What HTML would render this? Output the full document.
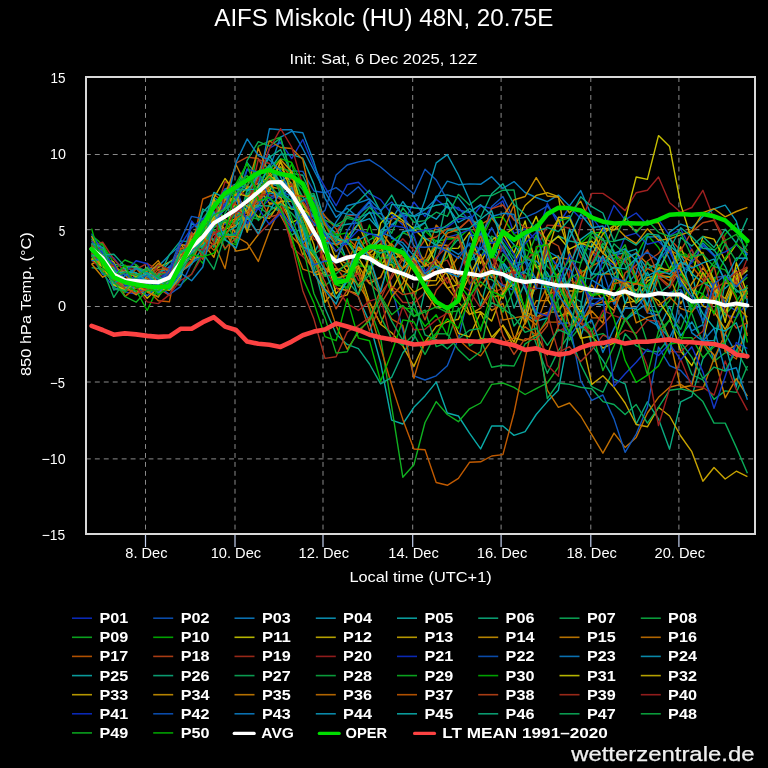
<!DOCTYPE html>
<html><head><meta charset="utf-8"><title>AIFS Miskolc</title>
<style>html,body{margin:0;padding:0;background:#000;width:768px;height:768px;overflow:hidden;font-family:"Liberation Sans",sans-serif}</style>
</head><body>
<svg width="768" height="768" viewBox="0 0 768 768" style="position:absolute;left:0;top:0;will-change:transform">
<defs><clipPath id="pc"><rect x="87" y="78" width="667" height="455"/></clipPath></defs>
<g stroke="#8a8a8a" stroke-width="1" stroke-dasharray="4.9,4.05" fill="none"><line x1="85.9" x2="754" y1="154.50" y2="154.50"/><line x1="85.9" x2="754" y1="229.70" y2="229.70"/><line x1="85.9" x2="754" y1="306.50" y2="306.50"/><line x1="85.9" x2="754" y1="382.00" y2="382.00"/><line x1="85.9" x2="754" y1="458.90" y2="458.90"/><line x1="145.5" x2="145.5" y1="77.1" y2="533"/><line x1="235.0" x2="235.0" y1="77.1" y2="533"/><line x1="323.0" x2="323.0" y1="77.1" y2="533"/><line x1="412.7" x2="412.7" y1="77.1" y2="533"/><line x1="501.1" x2="501.1" y1="77.1" y2="533"/><line x1="590.8" x2="590.8" y1="77.1" y2="533"/><line x1="678.9" x2="678.9" y1="77.1" y2="533"/></g>
<g clip-path="url(#pc)" fill="none" stroke-width="1.4" stroke-linejoin="round"><path d="M91.6,244.1 L102.7,255.0 L113.8,270.5 L124.9,291.9 L136.1,294.0 L147.2,277.9 L158.3,275.2 L169.4,277.0 L180.5,271.6 L191.6,236.2 L202.8,235.2 L213.9,211.6 L225.0,224.6 L236.1,209.1 L247.2,169.4 L258.3,179.6 L269.4,148.2 L280.6,142.1 L291.7,158.6 L302.8,139.5 L313.9,166.6 L325.0,187.3 L336.1,205.7 L347.2,184.5 L358.4,182.2 L369.5,193.7 L380.6,199.6 L391.7,214.2 L402.8,224.9 L413.9,202.0 L425.0,216.4 L436.2,199.4 L447.3,207.9 L458.4,207.5 L469.5,220.9 L480.6,206.0 L491.7,208.5 L502.9,200.9 L514.0,233.4 L525.1,228.9 L536.2,240.2 L547.3,203.5 L558.4,224.3 L569.5,207.0 L580.7,218.6 L591.8,217.2 L602.9,231.9 L614.0,205.3 L625.1,219.9 L636.2,213.0 L647.4,225.1 L658.5,219.7 L669.6,235.6 L680.7,229.0 L691.8,250.2 L702.9,273.2 L714.0,287.5 L725.2,315.0 L736.3,317.6 L747.4,301.8" stroke="#1438c8"/><path d="M91.6,244.7 L102.7,263.5 L113.8,285.7 L124.9,285.8 L136.1,273.9 L147.2,283.4 L158.3,277.5 L169.4,278.8 L180.5,256.7 L191.6,232.2 L202.8,248.5 L213.9,226.8 L225.0,204.5 L236.1,220.7 L247.2,218.0 L258.3,204.8 L269.4,186.0 L280.6,199.7 L291.7,170.7 L302.8,171.4 L313.9,191.0 L325.0,192.7 L336.1,187.6 L347.2,196.0 L358.4,186.8 L369.5,199.7 L380.6,236.0 L391.7,287.6 L402.8,330.0 L413.9,375.8 L425.0,380.0 L436.2,375.8 L447.3,365.8 L458.4,338.6 L469.5,291.3 L480.6,242.4 L491.7,206.6 L502.9,196.6 L514.0,219.7 L525.1,217.4 L536.2,212.6 L547.3,206.0 L558.4,219.8 L569.5,215.7 L580.7,244.0 L591.8,251.0 L602.9,271.1 L614.0,304.5 L625.1,279.6 L636.2,293.5 L647.4,312.9 L658.5,315.1 L669.6,292.7 L680.7,289.4 L691.8,309.3 L702.9,305.9 L714.0,277.6 L725.2,276.1 L736.3,282.0 L747.4,299.1" stroke="#1058c0"/><path d="M91.6,243.6 L102.7,257.5 L113.8,267.0 L124.9,275.1 L136.1,267.7 L147.2,270.7 L158.3,266.2 L169.4,255.0 L180.5,245.1 L191.6,244.3 L202.8,229.6 L213.9,220.7 L225.0,206.3 L236.1,217.5 L247.2,196.2 L258.3,175.1 L269.4,169.0 L280.6,137.1 L291.7,131.4 L302.8,132.8 L313.9,162.1 L325.0,198.3 L336.1,217.4 L347.2,208.3 L358.4,217.9 L369.5,212.9 L380.6,213.5 L391.7,224.9 L402.8,215.3 L413.9,216.0 L425.0,209.6 L436.2,198.7 L447.3,181.2 L458.4,184.7 L469.5,183.9 L480.6,184.3 L491.7,176.7 L502.9,188.4 L514.0,181.6 L525.1,192.5 L536.2,197.5 L547.3,201.7 L558.4,195.1 L569.5,205.9 L580.7,190.6 L591.8,216.0 L602.9,287.9 L614.0,297.7 L625.1,319.5 L636.2,313.0 L647.4,319.7 L658.5,326.2 L669.6,337.7 L680.7,314.0 L691.8,330.9 L702.9,324.6 L714.0,361.3 L725.2,333.6 L736.3,353.6 L747.4,300.6" stroke="#0a80c0"/><path d="M91.6,255.7 L102.7,274.3 L113.8,270.8 L124.9,280.3 L136.1,285.8 L147.2,287.5 L158.3,274.4 L169.4,290.4 L180.5,279.0 L191.6,237.3 L202.8,220.6 L213.9,207.7 L225.0,189.2 L236.1,183.9 L247.2,188.8 L258.3,202.2 L269.4,183.6 L280.6,186.6 L291.7,191.5 L302.8,204.1 L313.9,225.8 L325.0,216.7 L336.1,226.3 L347.2,224.3 L358.4,222.7 L369.5,218.7 L380.6,231.1 L391.7,219.4 L402.8,201.5 L413.9,216.7 L425.0,213.1 L436.2,219.2 L447.3,206.0 L458.4,222.5 L469.5,216.4 L480.6,235.6 L491.7,250.8 L502.9,263.6 L514.0,290.3 L525.1,314.2 L536.2,321.2 L547.3,318.0 L558.4,285.1 L569.5,310.6 L580.7,336.5 L591.8,303.5 L602.9,305.0 L614.0,299.9 L625.1,320.9 L636.2,311.0 L647.4,303.7 L658.5,329.2 L669.6,306.5 L680.7,335.7 L691.8,321.9 L702.9,341.0 L714.0,340.4 L725.2,305.7 L736.3,278.3 L747.4,300.6" stroke="#0a98b8"/><path d="M91.6,251.4 L102.7,260.4 L113.8,284.3 L124.9,287.5 L136.1,265.3 L147.2,284.9 L158.3,290.4 L169.4,279.4 L180.5,262.0 L191.6,243.0 L202.8,212.2 L213.9,200.8 L225.0,236.3 L236.1,232.4 L247.2,205.9 L258.3,196.5 L269.4,170.4 L280.6,154.3 L291.7,154.7 L302.8,158.2 L313.9,184.1 L325.0,222.6 L336.1,233.6 L347.2,261.1 L358.4,297.1 L369.5,322.5 L380.6,363.0 L391.7,420.2 L402.8,424.0 L413.9,407.3 L425.0,395.9 L436.2,382.1 L447.3,413.0 L458.4,416.0 L469.5,433.1 L480.6,448.9 L491.7,426.0 L502.9,426.0 L514.0,435.4 L525.1,431.7 L536.2,414.5 L547.3,401.6 L558.4,390.2 L569.5,330.6 L580.7,308.3 L591.8,243.7 L602.9,263.2 L614.0,254.7 L625.1,252.7 L636.2,249.1 L647.4,281.2 L658.5,276.8 L669.6,277.2 L680.7,266.0 L691.8,272.1 L702.9,323.3 L714.0,291.7 L725.2,288.3 L736.3,278.4 L747.4,270.7" stroke="#0aaaa8"/><path d="M91.6,238.4 L102.7,266.1 L113.8,264.2 L124.9,265.9 L136.1,273.6 L147.2,276.6 L158.3,278.8 L169.4,274.1 L180.5,255.5 L191.6,234.8 L202.8,231.7 L213.9,216.2 L225.0,196.9 L236.1,187.9 L247.2,162.6 L258.3,176.8 L269.4,157.2 L280.6,149.7 L291.7,173.4 L302.8,175.2 L313.9,200.5 L325.0,237.1 L336.1,236.5 L347.2,212.5 L358.4,201.6 L369.5,190.2 L380.6,211.6 L391.7,195.1 L402.8,216.5 L413.9,231.1 L425.0,222.4 L436.2,247.3 L447.3,251.7 L458.4,239.1 L469.5,261.1 L480.6,305.7 L491.7,264.6 L502.9,273.8 L514.0,288.8 L525.1,307.7 L536.2,286.7 L547.3,249.8 L558.4,269.6 L569.5,295.0 L580.7,301.7 L591.8,345.1 L602.9,360.3 L614.0,379.1 L625.1,383.9 L636.2,424.0 L647.4,401.8 L658.5,419.0 L669.6,449.2 L680.7,401.8 L691.8,396.4 L702.9,358.9 L714.0,344.1 L725.2,282.0 L736.3,289.7 L747.4,299.4" stroke="#0aaa80"/><path d="M91.6,253.1 L102.7,261.7 L113.8,287.7 L124.9,290.7 L136.1,278.8 L147.2,283.8 L158.3,280.0 L169.4,286.0 L180.5,271.2 L191.6,245.9 L202.8,231.5 L213.9,220.5 L225.0,191.6 L236.1,209.2 L247.2,231.5 L258.3,206.5 L269.4,214.7 L280.6,205.8 L291.7,192.5 L302.8,206.7 L313.9,211.6 L325.0,231.4 L336.1,281.2 L347.2,272.2 L358.4,247.1 L369.5,240.0 L380.6,233.1 L391.7,255.5 L402.8,247.9 L413.9,267.1 L425.0,227.7 L436.2,232.4 L447.3,229.2 L458.4,232.3 L469.5,273.0 L480.6,277.2 L491.7,279.6 L502.9,289.0 L514.0,326.0 L525.1,312.8 L536.2,343.8 L547.3,373.3 L558.4,350.6 L569.5,334.6 L580.7,364.6 L591.8,386.6 L602.9,392.2 L614.0,368.5 L625.1,333.7 L636.2,345.7 L647.4,351.2 L658.5,351.8 L669.6,337.7 L680.7,344.8 L691.8,374.6 L702.9,379.8 L714.0,399.4 L725.2,390.9 L736.3,392.4 L747.4,365.9" stroke="#0aaa58"/><path d="M91.6,253.0 L102.7,265.6 L113.8,278.1 L124.9,288.7 L136.1,291.7 L147.2,288.8 L158.3,296.7 L169.4,283.3 L180.5,285.1 L191.6,274.0 L202.8,251.6 L213.9,221.9 L225.0,222.9 L236.1,221.1 L247.2,198.6 L258.3,188.4 L269.4,165.4 L280.6,186.3 L291.7,183.0 L302.8,205.1 L313.9,211.9 L325.0,224.3 L336.1,238.6 L347.2,240.8 L358.4,238.2 L369.5,270.1 L380.6,252.1 L391.7,251.5 L402.8,232.6 L413.9,237.6 L425.0,265.2 L436.2,240.3 L447.3,246.3 L458.4,285.6 L469.5,260.1 L480.6,257.7 L491.7,236.1 L502.9,242.3 L514.0,258.2 L525.1,234.7 L536.2,224.2 L547.3,249.5 L558.4,305.4 L569.5,340.1 L580.7,326.3 L591.8,336.2 L602.9,333.6 L614.0,343.0 L625.1,320.1 L636.2,308.1 L647.4,343.3 L658.5,337.7 L669.6,319.7 L680.7,279.3 L691.8,313.3 L702.9,343.9 L714.0,361.4 L725.2,352.7 L736.3,351.4 L747.4,332.7" stroke="#0aaa40"/><path d="M91.6,252.2 L102.7,243.7 L113.8,270.1 L124.9,260.0 L136.1,264.6 L147.2,275.1 L158.3,283.1 L169.4,277.2 L180.5,256.4 L191.6,241.8 L202.8,232.0 L213.9,216.7 L225.0,249.7 L236.1,231.6 L247.2,206.7 L258.3,146.2 L269.4,141.1 L280.6,137.2 L291.7,177.8 L302.8,186.1 L313.9,211.9 L325.0,241.6 L336.1,244.9 L347.2,259.8 L358.4,273.8 L369.5,306.9 L380.6,338.0 L391.7,406.9 L402.8,477.2 L413.9,464.7 L425.0,422.5 L436.2,401.6 L447.3,414.5 L458.4,421.7 L469.5,408.8 L480.6,403.0 L491.7,384.4 L502.9,383.0 L514.0,387.3 L525.1,394.5 L536.2,388.7 L547.3,383.0 L558.4,367.2 L569.5,304.5 L580.7,263.6 L591.8,236.5 L602.9,246.3 L614.0,259.2 L625.1,244.7 L636.2,278.6 L647.4,309.1 L658.5,312.5 L669.6,300.5 L680.7,273.5 L691.8,289.4 L702.9,293.8 L714.0,266.5 L725.2,269.8 L736.3,286.9 L747.4,277.3" stroke="#10b020"/><path d="M91.6,235.2 L102.7,244.6 L113.8,263.0 L124.9,282.7 L136.1,291.6 L147.2,288.7 L158.3,284.2 L169.4,277.0 L180.5,254.7 L191.6,249.7 L202.8,263.4 L213.9,230.1 L225.0,240.1 L236.1,244.9 L247.2,187.7 L258.3,182.8 L269.4,167.8 L280.6,188.6 L291.7,163.6 L302.8,204.1 L313.9,229.0 L325.0,261.5 L336.1,285.0 L347.2,287.3 L358.4,256.3 L369.5,224.9 L380.6,261.4 L391.7,242.1 L402.8,232.9 L413.9,227.1 L425.0,230.7 L436.2,241.6 L447.3,239.0 L458.4,238.5 L469.5,228.3 L480.6,241.7 L491.7,217.8 L502.9,217.1 L514.0,234.7 L525.1,238.9 L536.2,265.5 L547.3,282.7 L558.4,311.7 L569.5,295.1 L580.7,322.5 L591.8,329.8 L602.9,314.5 L614.0,294.7 L625.1,281.6 L636.2,256.6 L647.4,234.9 L658.5,247.5 L669.6,269.4 L680.7,251.0 L691.8,258.2 L702.9,277.0 L714.0,262.4 L725.2,234.2 L736.3,223.5 L747.4,245.2" stroke="#00b800"/><path d="M91.6,246.4 L102.7,254.7 L113.8,274.5 L124.9,266.2 L136.1,266.7 L147.2,276.3 L158.3,267.3 L169.4,262.2 L180.5,253.7 L191.6,259.8 L202.8,255.4 L213.9,243.8 L225.0,231.1 L236.1,199.3 L247.2,187.6 L258.3,183.5 L269.4,190.5 L280.6,197.3 L291.7,222.7 L302.8,217.0 L313.9,235.7 L325.0,237.4 L336.1,251.5 L347.2,241.6 L358.4,259.2 L369.5,253.8 L380.6,266.3 L391.7,248.8 L402.8,260.4 L413.9,267.9 L425.0,266.0 L436.2,246.7 L447.3,248.8 L458.4,248.1 L469.5,232.3 L480.6,263.5 L491.7,240.0 L502.9,232.8 L514.0,253.0 L525.1,220.9 L536.2,267.7 L547.3,261.3 L558.4,256.0 L569.5,294.2 L580.7,312.3 L591.8,294.2 L602.9,292.6 L614.0,300.8 L625.1,292.9 L636.2,302.9 L647.4,294.7 L658.5,300.6 L669.6,316.8 L680.7,351.0 L691.8,365.7 L702.9,340.6 L714.0,296.3 L725.2,314.1 L736.3,279.1 L747.4,270.2" stroke="#c8c000"/><path d="M91.6,244.3 L102.7,258.2 L113.8,261.9 L124.9,287.9 L136.1,286.1 L147.2,298.3 L158.3,287.4 L169.4,281.4 L180.5,269.5 L191.6,238.6 L202.8,224.7 L213.9,198.4 L225.0,222.6 L236.1,218.9 L247.2,219.5 L258.3,187.7 L269.4,203.3 L280.6,202.8 L291.7,209.1 L302.8,210.0 L313.9,215.4 L325.0,230.4 L336.1,259.8 L347.2,235.9 L358.4,224.3 L369.5,250.1 L380.6,236.2 L391.7,259.0 L402.8,254.8 L413.9,265.1 L425.0,276.6 L436.2,266.2 L447.3,288.0 L458.4,284.3 L469.5,313.9 L480.6,311.7 L491.7,321.1 L502.9,292.4 L514.0,283.4 L525.1,320.2 L536.2,251.0 L547.3,298.8 L558.4,316.3 L569.5,312.1 L580.7,338.2 L591.8,336.2 L602.9,348.1 L614.0,342.9 L625.1,302.9 L636.2,301.1 L647.4,281.0 L658.5,274.4 L669.6,269.2 L680.7,246.8 L691.8,275.6 L702.9,236.5 L714.0,239.1 L725.2,260.3 L736.3,244.3 L747.4,253.1" stroke="#c8b000"/><path d="M91.6,245.1 L102.7,255.6 L113.8,280.4 L124.9,269.7 L136.1,288.0 L147.2,282.2 L158.3,284.8 L169.4,273.8 L180.5,243.9 L191.6,257.9 L202.8,257.0 L213.9,219.6 L225.0,229.0 L236.1,225.5 L247.2,215.3 L258.3,192.9 L269.4,176.8 L280.6,166.8 L291.7,184.6 L302.8,237.2 L313.9,260.8 L325.0,289.2 L336.1,298.2 L347.2,294.9 L358.4,267.1 L369.5,302.1 L380.6,324.2 L391.7,332.8 L402.8,345.8 L413.9,366.4 L425.0,341.8 L436.2,326.3 L447.3,321.8 L458.4,319.2 L469.5,293.9 L480.6,255.7 L491.7,277.7 L502.9,235.6 L514.0,228.0 L525.1,205.5 L536.2,195.4 L547.3,192.7 L558.4,196.7 L569.5,259.4 L580.7,333.4 L591.8,384.4 L602.9,375.8 L614.0,387.3 L625.1,403.0 L636.2,424.5 L647.4,426.8 L658.5,407.3 L669.6,416.0 L680.7,436.0 L691.8,451.7 L702.9,481.2 L714.0,467.5 L725.2,479.0 L736.3,471.2 L747.4,476.7" stroke="#c8a400"/><path d="M91.6,264.0 L102.7,259.3 L113.8,271.8 L124.9,287.2 L136.1,282.0 L147.2,282.1 L158.3,291.7 L169.4,283.7 L180.5,260.7 L191.6,251.7 L202.8,243.0 L213.9,257.3 L225.0,218.4 L236.1,233.6 L247.2,224.5 L258.3,201.9 L269.4,186.8 L280.6,188.9 L291.7,186.0 L302.8,203.6 L313.9,222.8 L325.0,223.8 L336.1,239.5 L347.2,242.1 L358.4,250.3 L369.5,248.1 L380.6,231.0 L391.7,246.5 L402.8,259.2 L413.9,260.1 L425.0,262.8 L436.2,274.1 L447.3,287.5 L458.4,302.1 L469.5,314.6 L480.6,308.1 L491.7,287.2 L502.9,298.4 L514.0,267.9 L525.1,312.4 L536.2,316.9 L547.3,312.4 L558.4,311.9 L569.5,290.7 L580.7,291.8 L591.8,285.1 L602.9,300.9 L614.0,310.4 L625.1,283.1 L636.2,290.6 L647.4,277.5 L658.5,275.2 L669.6,276.6 L680.7,303.8 L691.8,283.5 L702.9,267.8 L714.0,282.9 L725.2,302.3 L736.3,275.9 L747.4,268.4" stroke="#c89000"/><path d="M91.6,258.9 L102.7,265.6 L113.8,276.7 L124.9,271.2 L136.1,274.7 L147.2,271.2 L158.3,260.6 L169.4,278.1 L180.5,250.0 L191.6,251.9 L202.8,239.1 L213.9,223.6 L225.0,231.5 L236.1,251.1 L247.2,249.0 L258.3,234.6 L269.4,204.4 L280.6,202.0 L291.7,225.0 L302.8,255.1 L313.9,232.3 L325.0,260.1 L336.1,270.7 L347.2,265.2 L358.4,287.1 L369.5,255.1 L380.6,262.2 L391.7,217.0 L402.8,222.3 L413.9,245.5 L425.0,261.6 L436.2,245.2 L447.3,245.2 L458.4,276.5 L469.5,272.5 L480.6,294.5 L491.7,310.7 L502.9,303.4 L514.0,338.0 L525.1,340.7 L536.2,334.6 L547.3,355.0 L558.4,325.8 L569.5,302.1 L580.7,275.3 L591.8,299.8 L602.9,273.5 L614.0,274.4 L625.1,260.6 L636.2,252.7 L647.4,263.8 L658.5,269.7 L669.6,250.0 L680.7,255.9 L691.8,261.3 L702.9,252.5 L714.0,284.1 L725.2,351.2 L736.3,344.9 L747.4,358.5" stroke="#c87c00"/><path d="M91.6,240.7 L102.7,251.1 L113.8,282.2 L124.9,289.9 L136.1,283.4 L147.2,278.6 L158.3,281.5 L169.4,270.5 L180.5,271.8 L191.6,264.0 L202.8,222.1 L213.9,242.6 L225.0,268.6 L236.1,213.7 L247.2,212.7 L258.3,174.0 L269.4,140.9 L280.6,147.5 L291.7,148.5 L302.8,159.5 L313.9,213.4 L325.0,271.3 L336.1,257.7 L347.2,264.2 L358.4,236.7 L369.5,256.3 L380.6,250.2 L391.7,243.7 L402.8,258.8 L413.9,270.9 L425.0,278.4 L436.2,260.3 L447.3,233.1 L458.4,229.5 L469.5,219.2 L480.6,224.7 L491.7,218.0 L502.9,232.4 L514.0,204.6 L525.1,285.7 L536.2,334.8 L547.3,390.2 L558.4,407.3 L569.5,403.0 L580.7,416.0 L591.8,434.6 L602.9,453.2 L614.0,433.1 L625.1,447.4 L636.2,437.4 L647.4,413.0 L658.5,397.3 L669.6,387.3 L680.7,384.4 L691.8,391.6 L702.9,388.7 L714.0,358.4 L725.2,334.2 L736.3,306.6 L747.4,317.3" stroke="#c06e00"/><path d="M91.6,260.7 L102.7,255.3 L113.8,268.3 L124.9,296.6 L136.1,287.1 L147.2,289.6 L158.3,300.8 L169.4,301.8 L180.5,248.0 L191.6,249.0 L202.8,199.0 L213.9,194.5 L225.0,202.8 L236.1,204.6 L247.2,227.0 L258.3,202.0 L269.4,186.2 L280.6,162.1 L291.7,179.0 L302.8,183.5 L313.9,200.9 L325.0,215.9 L336.1,228.9 L347.2,248.1 L358.4,272.8 L369.5,310.0 L380.6,347.5 L391.7,385.0 L402.8,419.4 L413.9,449.0 L425.0,449.7 L436.2,482.5 L447.3,485.3 L458.4,478.4 L469.5,462.3 L480.6,461.8 L491.7,456.0 L502.9,454.6 L514.0,413.0 L525.1,358.6 L536.2,309.5 L547.3,286.0 L558.4,257.5 L569.5,259.2 L580.7,273.2 L591.8,266.2 L602.9,260.2 L614.0,268.7 L625.1,251.0 L636.2,275.2 L647.4,312.7 L658.5,276.7 L669.6,285.4 L680.7,263.2 L691.8,266.3 L702.9,279.7 L714.0,296.8 L725.2,351.5 L736.3,359.0 L747.4,325.2" stroke="#c05a00"/><path d="M91.6,243.9 L102.7,260.3 L113.8,274.1 L124.9,281.9 L136.1,277.9 L147.2,289.0 L158.3,288.3 L169.4,295.4 L180.5,273.1 L191.6,236.1 L202.8,228.1 L213.9,216.1 L225.0,201.4 L236.1,163.1 L247.2,157.1 L258.3,158.5 L269.4,178.9 L280.6,180.4 L291.7,189.0 L302.8,201.5 L313.9,218.1 L325.0,249.8 L336.1,267.0 L347.2,282.5 L358.4,273.1 L369.5,283.3 L380.6,293.8 L391.7,277.9 L402.8,259.0 L413.9,255.9 L425.0,239.7 L436.2,237.0 L447.3,228.6 L458.4,229.1 L469.5,219.4 L480.6,242.0 L491.7,208.7 L502.9,205.0 L514.0,220.0 L525.1,227.4 L536.2,228.8 L547.3,239.8 L558.4,246.0 L569.5,279.4 L580.7,286.3 L591.8,251.0 L602.9,258.9 L614.0,254.6 L625.1,260.0 L636.2,280.0 L647.4,261.0 L658.5,253.5 L669.6,238.4 L680.7,250.7 L691.8,231.6 L702.9,222.8 L714.0,220.3 L725.2,243.8 L736.3,282.4 L747.4,267.4" stroke="#b84418"/><path d="M91.6,246.0 L102.7,248.5 L113.8,275.0 L124.9,268.6 L136.1,269.4 L147.2,263.3 L158.3,270.5 L169.4,274.7 L180.5,269.9 L191.6,260.4 L202.8,234.0 L213.9,239.3 L225.0,217.7 L236.1,200.7 L247.2,206.3 L258.3,159.5 L269.4,163.5 L280.6,191.6 L291.7,183.6 L302.8,217.6 L313.9,239.2 L325.0,243.8 L336.1,231.8 L347.2,216.0 L358.4,214.6 L369.5,252.2 L380.6,239.3 L391.7,288.5 L402.8,302.3 L413.9,303.3 L425.0,292.4 L436.2,262.8 L447.3,260.1 L458.4,282.5 L469.5,290.8 L480.6,307.9 L491.7,292.8 L502.9,288.3 L514.0,274.8 L525.1,260.9 L536.2,250.1 L547.3,225.1 L558.4,225.7 L569.5,228.3 L580.7,257.3 L591.8,263.1 L602.9,238.2 L614.0,263.4 L625.1,261.7 L636.2,268.6 L647.4,286.4 L658.5,277.3 L669.6,287.9 L680.7,268.7 L691.8,249.2 L702.9,273.8 L714.0,315.3 L725.2,281.8 L736.3,270.4 L747.4,298.7" stroke="#a83020"/><path d="M91.6,260.1 L102.7,269.8 L113.8,278.0 L124.9,278.3 L136.1,292.1 L147.2,287.1 L158.3,277.7 L169.4,267.0 L180.5,262.3 L191.6,238.7 L202.8,226.6 L213.9,218.0 L225.0,181.7 L236.1,188.2 L247.2,196.9 L258.3,195.0 L269.4,194.6 L280.6,198.9 L291.7,247.3 L302.8,256.5 L313.9,268.5 L325.0,248.9 L336.1,260.8 L347.2,255.2 L358.4,280.2 L369.5,280.7 L380.6,277.8 L391.7,250.0 L402.8,238.8 L413.9,250.6 L425.0,261.9 L436.2,263.1 L447.3,283.2 L458.4,271.1 L469.5,252.5 L480.6,233.5 L491.7,255.8 L502.9,285.1 L514.0,283.1 L525.1,276.8 L536.2,313.9 L547.3,365.3 L558.4,376.3 L569.5,273.7 L580.7,224.5 L591.8,193.4 L602.9,193.4 L614.0,201.0 L625.1,210.6 L636.2,192.7 L647.4,190.3 L658.5,177.0 L669.6,202.8 L680.7,212.2 L691.8,207.5 L702.9,190.3 L714.0,219.0 L725.2,239.6 L736.3,286.4 L747.4,257.9" stroke="#a02020"/><path d="M91.6,236.0 L102.7,253.4 L113.8,257.9 L124.9,272.5 L136.1,260.8 L147.2,263.7 L158.3,283.7 L169.4,265.9 L180.5,266.9 L191.6,220.9 L202.8,235.2 L213.9,231.8 L225.0,238.1 L236.1,233.0 L247.2,207.4 L258.3,209.1 L269.4,199.8 L280.6,194.0 L291.7,207.6 L302.8,200.7 L313.9,200.5 L325.0,219.7 L336.1,241.4 L347.2,244.6 L358.4,212.9 L369.5,201.1 L380.6,218.7 L391.7,218.7 L402.8,213.3 L413.9,235.5 L425.0,271.2 L436.2,260.3 L447.3,237.3 L458.4,234.1 L469.5,229.6 L480.6,256.3 L491.7,247.9 L502.9,250.7 L514.0,265.1 L525.1,243.5 L536.2,232.4 L547.3,255.4 L558.4,266.1 L569.5,269.4 L580.7,285.7 L591.8,299.0 L602.9,258.9 L614.0,265.1 L625.1,236.3 L636.2,233.2 L647.4,244.3 L658.5,241.4 L669.6,251.7 L680.7,272.7 L691.8,262.7 L702.9,245.3 L714.0,255.9 L725.2,251.9 L736.3,244.9 L747.4,254.1" stroke="#1438c8"/><path d="M91.6,247.9 L102.7,273.5 L113.8,287.4 L124.9,281.1 L136.1,286.0 L147.2,295.7 L158.3,286.0 L169.4,294.4 L180.5,286.7 L191.6,263.1 L202.8,255.6 L213.9,216.5 L225.0,203.6 L236.1,199.9 L247.2,206.7 L258.3,201.7 L269.4,197.8 L280.6,191.8 L291.7,195.8 L302.8,196.3 L313.9,218.8 L325.0,210.4 L336.1,175.0 L347.2,165.0 L358.4,161.9 L369.5,159.8 L380.6,167.0 L391.7,176.5 L402.8,184.8 L413.9,194.0 L425.0,169.2 L436.2,180.0 L447.3,200.0 L458.4,210.0 L469.5,212.5 L480.6,235.7 L491.7,275.4 L502.9,285.7 L514.0,290.3 L525.1,319.3 L536.2,282.2 L547.3,286.1 L558.4,323.7 L569.5,322.8 L580.7,380.7 L591.8,400.3 L602.9,395.0 L614.0,418.9 L625.1,452.3 L636.2,434.0 L647.4,407.3 L658.5,347.0 L669.6,365.6 L680.7,370.5 L691.8,383.0 L702.9,338.8 L714.0,278.1 L725.2,303.8 L736.3,311.0 L747.4,290.6" stroke="#1058c0"/><path d="M91.6,244.8 L102.7,257.0 L113.8,290.0 L124.9,285.2 L136.1,287.5 L147.2,281.3 L158.3,281.1 L169.4,286.8 L180.5,271.8 L191.6,223.3 L202.8,231.4 L213.9,197.5 L225.0,205.4 L236.1,199.2 L247.2,228.7 L258.3,184.9 L269.4,128.8 L280.6,129.8 L291.7,129.8 L302.8,148.7 L313.9,170.2 L325.0,192.0 L336.1,210.9 L347.2,214.1 L358.4,215.1 L369.5,202.0 L380.6,232.0 L391.7,236.8 L402.8,246.4 L413.9,263.0 L425.0,274.9 L436.2,273.4 L447.3,247.6 L458.4,254.4 L469.5,244.5 L480.6,273.7 L491.7,288.6 L502.9,262.3 L514.0,275.4 L525.1,271.1 L536.2,252.1 L547.3,251.0 L558.4,257.3 L569.5,294.6 L580.7,318.3 L591.8,279.8 L602.9,286.8 L614.0,296.0 L625.1,286.0 L636.2,273.6 L647.4,237.0 L658.5,236.6 L669.6,259.1 L680.7,286.7 L691.8,258.3 L702.9,243.0 L714.0,254.7 L725.2,282.6 L736.3,268.9 L747.4,253.8" stroke="#0a80c0"/><path d="M91.6,248.9 L102.7,249.0 L113.8,270.3 L124.9,272.0 L136.1,276.3 L147.2,283.8 L158.3,273.2 L169.4,267.1 L180.5,271.9 L191.6,264.2 L202.8,247.3 L213.9,222.3 L225.0,198.0 L236.1,212.5 L247.2,211.4 L258.3,206.4 L269.4,192.9 L280.6,195.5 L291.7,187.6 L302.8,217.7 L313.9,215.7 L325.0,242.5 L336.1,243.7 L347.2,239.1 L358.4,240.2 L369.5,233.9 L380.6,235.3 L391.7,262.1 L402.8,268.8 L413.9,228.1 L425.0,222.6 L436.2,196.1 L447.3,194.9 L458.4,197.9 L469.5,212.1 L480.6,204.7 L491.7,215.5 L502.9,232.2 L514.0,244.8 L525.1,259.5 L536.2,261.1 L547.3,272.7 L558.4,293.8 L569.5,282.3 L580.7,245.3 L591.8,275.5 L602.9,255.7 L614.0,281.9 L625.1,257.8 L636.2,253.5 L647.4,268.8 L658.5,263.1 L669.6,232.1 L680.7,224.1 L691.8,228.2 L702.9,216.4 L714.0,208.8 L725.2,205.2 L736.3,221.1 L747.4,260.5" stroke="#0a98b8"/><path d="M91.6,246.3 L102.7,251.9 L113.8,272.0 L124.9,268.2 L136.1,294.5 L147.2,289.4 L158.3,274.4 L169.4,262.2 L180.5,258.0 L191.6,252.9 L202.8,245.7 L213.9,234.3 L225.0,233.2 L236.1,226.7 L247.2,191.1 L258.3,174.6 L269.4,155.3 L280.6,177.2 L291.7,197.6 L302.8,222.4 L313.9,253.6 L325.0,231.6 L336.1,244.8 L347.2,241.5 L358.4,223.5 L369.5,211.9 L380.6,232.8 L391.7,226.6 L402.8,213.0 L413.9,216.4 L425.0,237.9 L436.2,245.3 L447.3,230.9 L458.4,226.9 L469.5,261.7 L480.6,247.7 L491.7,257.1 L502.9,262.1 L514.0,279.1 L525.1,272.5 L536.2,278.7 L547.3,286.8 L558.4,289.5 L569.5,265.7 L580.7,239.4 L591.8,231.3 L602.9,238.5 L614.0,261.6 L625.1,303.8 L636.2,279.6 L647.4,305.1 L658.5,272.8 L669.6,245.5 L680.7,255.4 L691.8,273.6 L702.9,282.7 L714.0,288.5 L725.2,343.3 L736.3,387.1 L747.4,321.4" stroke="#0aaaa8"/><path d="M91.6,247.7 L102.7,252.1 L113.8,268.4 L124.9,287.8 L136.1,277.3 L147.2,275.3 L158.3,277.2 L169.4,254.6 L180.5,240.9 L191.6,241.9 L202.8,225.8 L213.9,240.6 L225.0,230.7 L236.1,240.8 L247.2,205.3 L258.3,205.5 L269.4,206.0 L280.6,211.6 L291.7,235.3 L302.8,227.0 L313.9,265.8 L325.0,308.2 L336.1,334.0 L347.2,344.4 L358.4,348.6 L369.5,364.0 L380.6,383.9 L391.7,377.3 L402.8,353.0 L413.9,338.6 L425.0,289.8 L436.2,248.8 L447.3,198.3 L458.4,215.4 L469.5,218.6 L480.6,227.9 L491.7,238.7 L502.9,269.0 L514.0,308.1 L525.1,282.4 L536.2,282.3 L547.3,245.1 L558.4,236.0 L569.5,241.0 L580.7,243.1 L591.8,264.6 L602.9,246.2 L614.0,275.8 L625.1,284.6 L636.2,296.1 L647.4,272.0 L658.5,293.5 L669.6,285.3 L680.7,237.5 L691.8,246.0 L702.9,236.4 L714.0,247.5 L725.2,229.2 L736.3,243.0 L747.4,218.1" stroke="#0aaa80"/><path d="M91.6,267.6 L102.7,269.2 L113.8,297.4 L124.9,280.5 L136.1,285.2 L147.2,280.5 L158.3,281.7 L169.4,274.4 L180.5,253.1 L191.6,254.1 L202.8,230.3 L213.9,247.3 L225.0,213.2 L236.1,196.9 L247.2,160.3 L258.3,141.7 L269.4,146.1 L280.6,138.1 L291.7,175.9 L302.8,197.1 L313.9,193.4 L325.0,224.0 L336.1,241.8 L347.2,216.5 L358.4,220.0 L369.5,207.3 L380.6,217.9 L391.7,233.3 L402.8,207.8 L413.9,222.3 L425.0,220.6 L436.2,212.2 L447.3,216.4 L458.4,194.4 L469.5,204.9 L480.6,195.8 L491.7,195.6 L502.9,190.2 L514.0,190.0 L525.1,253.7 L536.2,320.1 L547.3,398.7 L558.4,383.0 L569.5,384.4 L580.7,387.3 L591.8,388.7 L602.9,401.6 L614.0,404.5 L625.1,414.5 L636.2,404.5 L647.4,423.1 L658.5,407.3 L669.6,390.2 L680.7,388.7 L691.8,391.6 L702.9,401.6 L714.0,423.1 L725.2,423.1 L736.3,447.4 L747.4,473.2" stroke="#0aaa58"/><path d="M91.6,246.1 L102.7,256.3 L113.8,272.2 L124.9,286.0 L136.1,276.7 L147.2,268.4 L158.3,275.2 L169.4,271.5 L180.5,262.6 L191.6,243.2 L202.8,248.6 L213.9,227.6 L225.0,220.8 L236.1,223.4 L247.2,194.1 L258.3,188.2 L269.4,165.0 L280.6,195.1 L291.7,176.2 L302.8,189.7 L313.9,215.1 L325.0,220.2 L336.1,225.3 L347.2,218.4 L358.4,221.1 L369.5,243.4 L380.6,258.3 L391.7,257.3 L402.8,289.6 L413.9,315.9 L425.0,310.0 L436.2,346.6 L447.3,342.6 L458.4,308.0 L469.5,345.8 L480.6,338.7 L491.7,367.3 L502.9,365.3 L514.0,366.0 L525.1,343.9 L536.2,337.0 L547.3,318.4 L558.4,299.3 L569.5,278.8 L580.7,271.7 L591.8,267.8 L602.9,243.1 L614.0,254.4 L625.1,264.6 L636.2,296.7 L647.4,261.9 L658.5,281.1 L669.6,314.4 L680.7,329.3 L691.8,301.5 L702.9,297.6 L714.0,301.4 L725.2,314.7 L736.3,301.6 L747.4,285.1" stroke="#0aaa40"/><path d="M91.6,245.6 L102.7,243.3 L113.8,278.3 L124.9,292.2 L136.1,283.7 L147.2,284.9 L158.3,291.2 L169.4,274.6 L180.5,272.6 L191.6,243.1 L202.8,219.2 L213.9,202.9 L225.0,219.5 L236.1,242.9 L247.2,216.3 L258.3,219.2 L269.4,190.6 L280.6,168.2 L291.7,171.4 L302.8,210.1 L313.9,262.2 L325.0,285.9 L336.1,275.8 L347.2,290.4 L358.4,261.5 L369.5,272.7 L380.6,245.8 L391.7,264.4 L402.8,275.8 L413.9,300.8 L425.0,259.9 L436.2,268.0 L447.3,257.0 L458.4,233.0 L469.5,283.3 L480.6,276.8 L491.7,274.9 L502.9,273.5 L514.0,263.1 L525.1,261.8 L536.2,235.0 L547.3,266.4 L558.4,276.2 L569.5,306.1 L580.7,283.8 L591.8,295.0 L602.9,289.7 L614.0,289.3 L625.1,248.6 L636.2,280.8 L647.4,291.0 L658.5,264.2 L669.6,274.4 L680.7,254.0 L691.8,258.6 L702.9,240.5 L714.0,250.5 L725.2,240.5 L736.3,234.4 L747.4,250.8" stroke="#10b020"/><path d="M91.6,245.7 L102.7,247.9 L113.8,271.8 L124.9,287.6 L136.1,290.4 L147.2,310.5 L158.3,286.6 L169.4,286.5 L180.5,264.4 L191.6,243.6 L202.8,233.5 L213.9,218.7 L225.0,240.6 L236.1,206.6 L247.2,201.1 L258.3,197.2 L269.4,169.6 L280.6,158.7 L291.7,162.5 L302.8,185.2 L313.9,203.1 L325.0,225.7 L336.1,235.1 L347.2,232.7 L358.4,265.7 L369.5,266.9 L380.6,259.6 L391.7,295.0 L402.8,307.9 L413.9,309.0 L425.0,326.4 L436.2,314.8 L447.3,335.3 L458.4,283.4 L469.5,297.8 L480.6,275.0 L491.7,255.1 L502.9,263.2 L514.0,245.3 L525.1,249.4 L536.2,255.0 L547.3,239.4 L558.4,220.8 L569.5,218.1 L580.7,243.2 L591.8,233.1 L602.9,232.3 L614.0,251.1 L625.1,281.4 L636.2,282.7 L647.4,285.2 L658.5,273.5 L669.6,269.3 L680.7,267.8 L691.8,307.1 L702.9,283.4 L714.0,281.3 L725.2,258.1 L736.3,243.2 L747.4,259.5" stroke="#00b800"/><path d="M91.6,259.1 L102.7,266.8 L113.8,285.0 L124.9,289.7 L136.1,281.8 L147.2,281.6 L158.3,284.2 L169.4,279.3 L180.5,260.6 L191.6,240.0 L202.8,236.5 L213.9,216.8 L225.0,207.8 L236.1,192.9 L247.2,212.9 L258.3,186.0 L269.4,175.7 L280.6,182.8 L291.7,171.5 L302.8,212.3 L313.9,229.1 L325.0,252.7 L336.1,293.9 L347.2,280.6 L358.4,257.5 L369.5,276.2 L380.6,223.3 L391.7,212.3 L402.8,220.5 L413.9,228.7 L425.0,239.7 L436.2,264.7 L447.3,274.3 L458.4,299.8 L469.5,275.5 L480.6,254.6 L491.7,296.9 L502.9,295.1 L514.0,261.9 L525.1,240.4 L536.2,216.4 L547.3,245.7 L558.4,236.2 L569.5,249.2 L580.7,243.4 L591.8,246.9 L602.9,228.0 L614.0,230.0 L625.1,220.0 L636.2,177.0 L647.4,179.4 L658.5,135.6 L669.6,146.6 L680.7,204.4 L691.8,240.0 L702.9,254.8 L714.0,280.2 L725.2,322.4 L736.3,262.8 L747.4,294.6" stroke="#c8c000"/><path d="M91.6,249.9 L102.7,262.2 L113.8,266.4 L124.9,279.6 L136.1,286.6 L147.2,291.2 L158.3,288.8 L169.4,290.3 L180.5,276.3 L191.6,246.3 L202.8,242.7 L213.9,197.9 L225.0,178.5 L236.1,193.2 L247.2,196.3 L258.3,191.1 L269.4,191.2 L280.6,161.3 L291.7,193.9 L302.8,243.3 L313.9,256.6 L325.0,275.9 L336.1,255.6 L347.2,271.9 L358.4,247.2 L369.5,253.2 L380.6,243.9 L391.7,290.8 L402.8,268.3 L413.9,257.1 L425.0,291.7 L436.2,307.9 L447.3,306.0 L458.4,333.3 L469.5,336.8 L480.6,312.5 L491.7,337.2 L502.9,325.6 L514.0,346.9 L525.1,322.3 L536.2,280.2 L547.3,253.3 L558.4,217.1 L569.5,217.9 L580.7,243.7 L591.8,241.2 L602.9,253.0 L614.0,263.5 L625.1,281.9 L636.2,295.7 L647.4,294.9 L658.5,267.9 L669.6,270.1 L680.7,278.9 L691.8,296.9 L702.9,272.3 L714.0,290.4 L725.2,298.5 L736.3,270.7 L747.4,324.3" stroke="#c8b000"/><path d="M91.6,236.2 L102.7,256.2 L113.8,273.2 L124.9,270.8 L136.1,276.8 L147.2,267.2 L158.3,284.4 L169.4,282.9 L180.5,254.6 L191.6,252.1 L202.8,243.4 L213.9,220.1 L225.0,198.9 L236.1,198.6 L247.2,206.3 L258.3,216.7 L269.4,218.3 L280.6,201.2 L291.7,201.2 L302.8,216.6 L313.9,244.5 L325.0,302.3 L336.1,288.1 L347.2,290.5 L358.4,294.2 L369.5,255.6 L380.6,265.2 L391.7,264.6 L402.8,292.1 L413.9,258.1 L425.0,280.8 L436.2,280.6 L447.3,248.3 L458.4,286.6 L469.5,304.8 L480.6,338.1 L491.7,340.3 L502.9,325.1 L514.0,342.2 L525.1,309.2 L536.2,280.9 L547.3,236.9 L558.4,219.0 L569.5,252.1 L580.7,282.0 L591.8,255.2 L602.9,233.9 L614.0,225.4 L625.1,221.7 L636.2,231.5 L647.4,221.7 L658.5,222.7 L669.6,245.7 L680.7,270.3 L691.8,288.6 L702.9,305.8 L714.0,311.5 L725.2,329.4 L736.3,307.7 L747.4,287.3" stroke="#c8a400"/><path d="M91.6,258.2 L102.7,264.7 L113.8,276.7 L124.9,286.6 L136.1,294.8 L147.2,275.1 L158.3,263.5 L169.4,271.9 L180.5,262.9 L191.6,236.2 L202.8,225.0 L213.9,220.8 L225.0,208.4 L236.1,193.6 L247.2,232.4 L258.3,191.4 L269.4,174.8 L280.6,159.5 L291.7,171.8 L302.8,231.0 L313.9,275.3 L325.0,272.5 L336.1,268.6 L347.2,272.6 L358.4,265.8 L369.5,283.7 L380.6,277.2 L391.7,254.2 L402.8,278.3 L413.9,292.3 L425.0,286.0 L436.2,284.9 L447.3,270.4 L458.4,286.6 L469.5,275.2 L480.6,274.9 L491.7,251.7 L502.9,216.3 L514.0,199.9 L525.1,196.5 L536.2,177.7 L547.3,196.0 L558.4,197.3 L569.5,212.8 L580.7,201.2 L591.8,226.2 L602.9,253.8 L614.0,225.1 L625.1,236.3 L636.2,243.6 L647.4,228.8 L658.5,240.2 L669.6,238.9 L680.7,234.8 L691.8,231.0 L702.9,212.7 L714.0,208.7 L725.2,216.9 L736.3,211.5 L747.4,207.4" stroke="#c89000"/><path d="M91.6,264.0 L102.7,277.2 L113.8,272.0 L124.9,281.4 L136.1,284.7 L147.2,292.0 L158.3,297.2 L169.4,274.5 L180.5,243.9 L191.6,248.3 L202.8,243.3 L213.9,209.1 L225.0,194.8 L236.1,164.7 L247.2,187.8 L258.3,148.2 L269.4,174.5 L280.6,215.5 L291.7,236.5 L302.8,248.1 L313.9,273.0 L325.0,267.9 L336.1,278.3 L347.2,275.4 L358.4,284.5 L369.5,302.5 L380.6,324.0 L391.7,296.7 L402.8,283.4 L413.9,253.1 L425.0,266.5 L436.2,259.5 L447.3,273.6 L458.4,256.3 L469.5,265.4 L480.6,286.9 L491.7,270.5 L502.9,292.3 L514.0,279.6 L525.1,324.1 L536.2,300.7 L547.3,300.5 L558.4,273.4 L569.5,314.6 L580.7,319.9 L591.8,311.1 L602.9,323.1 L614.0,278.2 L625.1,284.5 L636.2,322.8 L647.4,317.4 L658.5,314.3 L669.6,338.5 L680.7,387.5 L691.8,385.5 L702.9,342.5 L714.0,355.0 L725.2,397.8 L736.3,378.6 L747.4,396.2" stroke="#c87c00"/><path d="M91.6,253.5 L102.7,271.8 L113.8,265.2 L124.9,274.5 L136.1,288.6 L147.2,280.9 L158.3,293.7 L169.4,269.9 L180.5,272.1 L191.6,261.9 L202.8,238.0 L213.9,244.7 L225.0,236.7 L236.1,236.5 L247.2,243.1 L258.3,261.4 L269.4,231.2 L280.6,206.7 L291.7,240.1 L302.8,269.1 L313.9,272.9 L325.0,292.3 L336.1,325.6 L347.2,349.3 L358.4,332.2 L369.5,319.3 L380.6,289.3 L391.7,255.4 L402.8,268.3 L413.9,262.9 L425.0,257.7 L436.2,225.1 L447.3,236.9 L458.4,237.8 L469.5,260.0 L480.6,235.9 L491.7,264.6 L502.9,320.0 L514.0,317.9 L525.1,315.9 L536.2,324.9 L547.3,294.8 L558.4,290.0 L569.5,324.7 L580.7,323.6 L591.8,305.7 L602.9,301.7 L614.0,301.4 L625.1,288.3 L636.2,283.5 L647.4,287.4 L658.5,305.5 L669.6,296.8 L680.7,308.5 L691.8,312.3 L702.9,295.8 L714.0,300.6 L725.2,283.3 L736.3,282.7 L747.4,297.2" stroke="#c06e00"/><path d="M91.6,256.7 L102.7,253.7 L113.8,277.8 L124.9,285.7 L136.1,268.4 L147.2,282.1 L158.3,269.4 L169.4,268.8 L180.5,270.5 L191.6,246.4 L202.8,238.4 L213.9,250.3 L225.0,235.5 L236.1,217.8 L247.2,212.0 L258.3,199.9 L269.4,182.6 L280.6,181.3 L291.7,194.7 L302.8,196.2 L313.9,196.9 L325.0,225.0 L336.1,245.4 L347.2,237.9 L358.4,248.4 L369.5,255.8 L380.6,298.2 L391.7,319.2 L402.8,325.4 L413.9,378.2 L425.0,341.3 L436.2,337.3 L447.3,309.6 L458.4,339.3 L469.5,349.5 L480.6,355.8 L491.7,340.3 L502.9,343.3 L514.0,337.9 L525.1,326.8 L536.2,335.0 L547.3,322.1 L558.4,322.0 L569.5,308.2 L580.7,269.8 L591.8,317.9 L602.9,317.7 L614.0,283.5 L625.1,281.9 L636.2,284.3 L647.4,268.5 L658.5,274.2 L669.6,280.5 L680.7,265.4 L691.8,254.1 L702.9,265.8 L714.0,284.3 L725.2,275.0 L736.3,299.7 L747.4,336.0" stroke="#c05a00"/><path d="M91.6,246.5 L102.7,249.3 L113.8,279.7 L124.9,288.6 L136.1,293.3 L147.2,289.3 L158.3,272.3 L169.4,272.9 L180.5,259.8 L191.6,232.3 L202.8,259.4 L213.9,231.8 L225.0,248.4 L236.1,238.0 L247.2,216.7 L258.3,194.9 L269.4,217.0 L280.6,214.1 L291.7,227.6 L302.8,242.7 L313.9,260.4 L325.0,281.8 L336.1,308.9 L347.2,289.8 L358.4,296.4 L369.5,330.9 L380.6,304.2 L391.7,286.2 L402.8,294.6 L413.9,292.8 L425.0,319.9 L436.2,290.3 L447.3,277.3 L458.4,302.1 L469.5,250.2 L480.6,256.6 L491.7,293.6 L502.9,335.6 L514.0,354.4 L525.1,338.6 L536.2,339.6 L547.3,325.7 L558.4,275.7 L569.5,298.5 L580.7,322.7 L591.8,336.4 L602.9,324.7 L614.0,312.0 L625.1,272.8 L636.2,265.3 L647.4,249.8 L658.5,275.5 L669.6,270.6 L680.7,277.7 L691.8,289.0 L702.9,283.3 L714.0,266.2 L725.2,311.1 L736.3,328.2 L747.4,322.8" stroke="#b84418"/><path d="M91.6,245.4 L102.7,242.2 L113.8,259.3 L124.9,271.6 L136.1,282.2 L147.2,282.6 L158.3,265.1 L169.4,269.3 L180.5,262.7 L191.6,248.4 L202.8,249.9 L213.9,233.3 L225.0,228.6 L236.1,208.9 L247.2,217.3 L258.3,234.6 L269.4,223.6 L280.6,210.4 L291.7,242.9 L302.8,290.7 L313.9,319.1 L325.0,358.4 L336.1,356.8 L347.2,331.9 L358.4,325.6 L369.5,317.3 L380.6,299.3 L391.7,274.7 L402.8,255.3 L413.9,260.9 L425.0,274.5 L436.2,257.5 L447.3,246.5 L458.4,235.2 L469.5,284.1 L480.6,272.1 L491.7,254.9 L502.9,274.3 L514.0,271.8 L525.1,275.5 L536.2,319.5 L547.3,313.1 L558.4,352.4 L569.5,346.6 L580.7,361.6 L591.8,349.9 L602.9,335.1 L614.0,339.2 L625.1,330.1 L636.2,333.2 L647.4,320.1 L658.5,321.2 L669.6,351.5 L680.7,352.1 L691.8,340.2 L702.9,331.2 L714.0,289.9 L725.2,281.5 L736.3,272.6 L747.4,266.9" stroke="#a83020"/><path d="M91.6,253.0 L102.7,262.8 L113.8,265.6 L124.9,282.1 L136.1,286.9 L147.2,301.9 L158.3,303.6 L169.4,294.6 L180.5,280.3 L191.6,274.4 L202.8,255.3 L213.9,242.5 L225.0,193.7 L236.1,213.0 L247.2,201.9 L258.3,179.5 L269.4,149.0 L280.6,128.6 L291.7,147.0 L302.8,185.4 L313.9,228.9 L325.0,270.0 L336.1,286.9 L347.2,303.5 L358.4,310.5 L369.5,301.1 L380.6,297.4 L391.7,342.1 L402.8,306.2 L413.9,329.7 L425.0,329.3 L436.2,319.9 L447.3,313.1 L458.4,284.6 L469.5,306.6 L480.6,278.4 L491.7,268.3 L502.9,245.9 L514.0,276.3 L525.1,286.8 L536.2,289.1 L547.3,243.1 L558.4,331.2 L569.5,325.6 L580.7,320.8 L591.8,334.9 L602.9,310.2 L614.0,315.6 L625.1,319.3 L636.2,336.7 L647.4,366.5 L658.5,425.5 L669.6,388.6 L680.7,359.3 L691.8,386.2 L702.9,387.2 L714.0,395.1 L725.2,361.0 L736.3,389.7 L747.4,410.4" stroke="#a02020"/><path d="M91.6,241.3 L102.7,253.5 L113.8,263.9 L124.9,286.1 L136.1,281.2 L147.2,283.1 L158.3,284.3 L169.4,273.1 L180.5,244.8 L191.6,227.9 L202.8,218.9 L213.9,225.7 L225.0,204.5 L236.1,185.9 L247.2,223.3 L258.3,208.1 L269.4,224.6 L280.6,213.4 L291.7,231.1 L302.8,211.0 L313.9,223.1 L325.0,234.2 L336.1,251.3 L347.2,241.8 L358.4,230.0 L369.5,233.6 L380.6,237.3 L391.7,225.5 L402.8,227.2 L413.9,232.7 L425.0,230.0 L436.2,227.9 L447.3,227.1 L458.4,219.0 L469.5,217.6 L480.6,233.9 L491.7,243.3 L502.9,238.4 L514.0,254.4 L525.1,286.1 L536.2,312.2 L547.3,316.1 L558.4,285.9 L569.5,254.1 L580.7,277.6 L591.8,306.1 L602.9,297.6 L614.0,386.4 L625.1,373.7 L636.2,362.3 L647.4,349.3 L658.5,355.5 L669.6,343.8 L680.7,359.9 L691.8,346.7 L702.9,371.9 L714.0,408.3 L725.2,376.4 L736.3,342.5 L747.4,348.5" stroke="#1438c8"/><path d="M91.6,233.7 L102.7,250.9 L113.8,278.3 L124.9,273.8 L136.1,281.1 L147.2,275.3 L158.3,285.4 L169.4,268.9 L180.5,240.3 L191.6,216.4 L202.8,218.7 L213.9,206.7 L225.0,189.1 L236.1,198.6 L247.2,169.0 L258.3,172.4 L269.4,198.6 L280.6,210.1 L291.7,226.0 L302.8,244.4 L313.9,265.0 L325.0,261.0 L336.1,261.9 L347.2,231.0 L358.4,213.5 L369.5,205.9 L380.6,210.0 L391.7,202.0 L402.8,215.3 L413.9,246.7 L425.0,247.3 L436.2,246.1 L447.3,250.8 L458.4,258.4 L469.5,243.1 L480.6,249.6 L491.7,227.6 L502.9,248.9 L514.0,267.4 L525.1,261.8 L536.2,288.1 L547.3,288.9 L558.4,317.4 L569.5,336.4 L580.7,321.2 L591.8,298.4 L602.9,298.5 L614.0,277.6 L625.1,281.7 L636.2,259.2 L647.4,252.2 L658.5,260.9 L669.6,246.8 L680.7,282.5 L691.8,296.8 L702.9,321.3 L714.0,283.8 L725.2,275.5 L736.3,286.8 L747.4,274.2" stroke="#1058c0"/><path d="M91.6,260.6 L102.7,259.1 L113.8,283.3 L124.9,275.8 L136.1,268.5 L147.2,274.0 L158.3,292.7 L169.4,282.1 L180.5,273.0 L191.6,280.8 L202.8,267.0 L213.9,221.9 L225.0,209.3 L236.1,162.1 L247.2,138.9 L258.3,155.6 L269.4,159.9 L280.6,170.4 L291.7,197.5 L302.8,243.0 L313.9,232.1 L325.0,241.7 L336.1,222.2 L347.2,205.7 L358.4,202.8 L369.5,199.0 L380.6,210.6 L391.7,238.4 L402.8,242.7 L413.9,255.7 L425.0,273.7 L436.2,266.2 L447.3,272.5 L458.4,276.9 L469.5,235.6 L480.6,234.7 L491.7,216.5 L502.9,213.3 L514.0,214.4 L525.1,258.3 L536.2,279.9 L547.3,278.0 L558.4,295.8 L569.5,309.6 L580.7,328.1 L591.8,320.1 L602.9,352.5 L614.0,328.6 L625.1,308.0 L636.2,308.3 L647.4,293.5 L658.5,327.0 L669.6,353.8 L680.7,291.8 L691.8,332.9 L702.9,341.1 L714.0,328.3 L725.2,370.7 L736.3,367.8 L747.4,399.7" stroke="#0a80c0"/><path d="M91.6,243.5 L102.7,247.3 L113.8,276.6 L124.9,282.1 L136.1,278.6 L147.2,272.6 L158.3,279.0 L169.4,289.5 L180.5,274.3 L191.6,252.2 L202.8,240.3 L213.9,212.0 L225.0,239.4 L236.1,248.1 L247.2,216.5 L258.3,233.7 L269.4,211.9 L280.6,190.8 L291.7,201.2 L302.8,226.8 L313.9,273.0 L325.0,290.2 L336.1,304.1 L347.2,277.1 L358.4,242.0 L369.5,257.5 L380.6,291.7 L391.7,252.8 L402.8,231.5 L413.9,230.0 L425.0,200.0 L436.2,162.9 L447.3,154.6 L458.4,175.0 L469.5,200.0 L480.6,229.4 L491.7,267.4 L502.9,274.6 L514.0,286.1 L525.1,236.4 L536.2,226.7 L547.3,283.1 L558.4,264.2 L569.5,238.1 L580.7,214.2 L591.8,227.7 L602.9,226.0 L614.0,253.5 L625.1,248.9 L636.2,260.8 L647.4,275.6 L658.5,270.6 L669.6,274.2 L680.7,261.8 L691.8,268.1 L702.9,262.9 L714.0,259.2 L725.2,280.5 L736.3,258.0 L747.4,258.2" stroke="#0a98b8"/><path d="M91.6,255.0 L102.7,257.1 L113.8,272.5 L124.9,272.1 L136.1,272.6 L147.2,281.5 L158.3,294.3 L169.4,278.2 L180.5,272.6 L191.6,245.0 L202.8,226.2 L213.9,192.4 L225.0,198.1 L236.1,189.5 L247.2,189.9 L258.3,188.8 L269.4,164.8 L280.6,183.1 L291.7,226.9 L302.8,246.9 L313.9,251.3 L325.0,270.4 L336.1,298.8 L347.2,281.2 L358.4,259.3 L369.5,248.8 L380.6,239.5 L391.7,204.4 L402.8,205.7 L413.9,207.8 L425.0,209.1 L436.2,205.2 L447.3,203.4 L458.4,229.7 L469.5,228.2 L480.6,219.0 L491.7,210.8 L502.9,244.0 L514.0,262.5 L525.1,289.0 L536.2,316.1 L547.3,257.1 L558.4,282.0 L569.5,229.1 L580.7,251.7 L591.8,273.7 L602.9,274.7 L614.0,267.2 L625.1,268.9 L636.2,258.2 L647.4,294.5 L658.5,259.2 L669.6,238.1 L680.7,259.5 L691.8,292.6 L702.9,313.6 L714.0,327.8 L725.2,331.0 L736.3,322.8 L747.4,355.6" stroke="#0aaaa8"/><path d="M91.6,256.1 L102.7,254.9 L113.8,254.2 L124.9,266.4 L136.1,267.2 L147.2,273.6 L158.3,284.3 L169.4,278.7 L180.5,251.3 L191.6,249.7 L202.8,209.0 L213.9,215.1 L225.0,209.1 L236.1,199.6 L247.2,180.5 L258.3,175.9 L269.4,165.3 L280.6,187.7 L291.7,209.2 L302.8,200.2 L313.9,195.2 L325.0,232.4 L336.1,237.1 L347.2,242.2 L358.4,256.3 L369.5,247.8 L380.6,253.1 L391.7,248.8 L402.8,275.4 L413.9,255.1 L425.0,230.6 L436.2,232.4 L447.3,225.1 L458.4,216.9 L469.5,208.5 L480.6,217.3 L491.7,193.7 L502.9,183.8 L514.0,204.4 L525.1,214.4 L536.2,231.2 L547.3,227.7 L558.4,231.6 L569.5,219.3 L580.7,196.8 L591.8,206.7 L602.9,213.0 L614.0,241.2 L625.1,238.5 L636.2,245.1 L647.4,233.8 L658.5,235.3 L669.6,249.5 L680.7,227.7 L691.8,236.7 L702.9,248.2 L714.0,249.6 L725.2,266.3 L736.3,292.2 L747.4,288.4" stroke="#0aaa80"/><path d="M91.6,242.8 L102.7,256.3 L113.8,289.2 L124.9,290.4 L136.1,278.6 L147.2,267.5 L158.3,277.7 L169.4,281.3 L180.5,252.0 L191.6,245.3 L202.8,252.8 L213.9,269.4 L225.0,234.5 L236.1,235.3 L247.2,197.3 L258.3,220.5 L269.4,210.8 L280.6,203.5 L291.7,213.2 L302.8,226.0 L313.9,254.5 L325.0,246.4 L336.1,278.1 L347.2,280.0 L358.4,294.8 L369.5,265.9 L380.6,298.0 L391.7,321.2 L402.8,340.3 L413.9,301.7 L425.0,334.8 L436.2,339.6 L447.3,348.8 L458.4,338.8 L469.5,330.2 L480.6,328.4 L491.7,302.7 L502.9,308.3 L514.0,316.6 L525.1,332.4 L536.2,328.2 L547.3,345.3 L558.4,329.6 L569.5,334.5 L580.7,277.2 L591.8,279.1 L602.9,268.6 L614.0,243.8 L625.1,254.1 L636.2,303.2 L647.4,285.5 L658.5,314.8 L669.6,341.1 L680.7,342.2 L691.8,357.1 L702.9,378.5 L714.0,367.1 L725.2,371.0 L736.3,350.0 L747.4,370.5" stroke="#0aaa58"/><path d="M91.6,252.3 L102.7,249.2 L113.8,277.4 L124.9,272.1 L136.1,275.4 L147.2,270.0 L158.3,277.3 L169.4,287.8 L180.5,269.7 L191.6,256.6 L202.8,241.2 L213.9,205.7 L225.0,195.2 L236.1,192.7 L247.2,185.0 L258.3,173.6 L269.4,186.0 L280.6,196.4 L291.7,200.6 L302.8,221.4 L313.9,253.2 L325.0,276.3 L336.1,273.9 L347.2,262.8 L358.4,286.3 L369.5,274.7 L380.6,316.6 L391.7,338.8 L402.8,345.3 L413.9,334.3 L425.0,354.5 L436.2,333.7 L447.3,333.9 L458.4,349.8 L469.5,360.3 L480.6,351.5 L491.7,296.4 L502.9,253.7 L514.0,268.1 L525.1,281.3 L536.2,249.2 L547.3,276.6 L558.4,276.1 L569.5,259.6 L580.7,263.0 L591.8,232.4 L602.9,240.6 L614.0,241.6 L625.1,216.4 L636.2,232.8 L647.4,220.3 L658.5,232.3 L669.6,236.5 L680.7,232.6 L691.8,256.7 L702.9,254.3 L714.0,266.8 L725.2,243.6 L736.3,261.1 L747.4,244.5" stroke="#0aaa40"/><path d="M91.6,255.3 L102.7,272.0 L113.8,281.3 L124.9,296.5 L136.1,302.2 L147.2,290.3 L158.3,290.7 L169.4,278.4 L180.5,267.8 L191.6,247.8 L202.8,229.7 L213.9,215.1 L225.0,210.0 L236.1,183.6 L247.2,175.6 L258.3,190.0 L269.4,176.5 L280.6,188.3 L291.7,218.6 L302.8,247.1 L313.9,293.5 L325.0,317.9 L336.1,353.1 L347.2,351.8 L358.4,330.0 L369.5,321.0 L380.6,295.5 L391.7,314.7 L402.8,305.5 L413.9,316.6 L425.0,311.9 L436.2,306.8 L447.3,312.4 L458.4,310.8 L469.5,296.4 L480.6,281.8 L491.7,291.7 L502.9,312.1 L514.0,289.7 L525.1,255.6 L536.2,264.2 L547.3,290.5 L558.4,308.3 L569.5,332.9 L580.7,312.4 L591.8,331.0 L602.9,370.5 L614.0,345.7 L625.1,317.9 L636.2,336.2 L647.4,374.6 L658.5,330.9 L669.6,320.3 L680.7,337.7 L691.8,337.6 L702.9,357.5 L714.0,346.8 L725.2,342.6 L736.3,317.3 L747.4,290.8" stroke="#10b020"/><path d="M91.6,228.6 L102.7,268.0 L113.8,277.4 L124.9,264.9 L136.1,288.0 L147.2,284.9 L158.3,294.3 L169.4,287.4 L180.5,261.5 L191.6,254.9 L202.8,256.7 L213.9,253.2 L225.0,234.4 L236.1,183.5 L247.2,163.4 L258.3,200.8 L269.4,197.4 L280.6,209.0 L291.7,236.7 L302.8,278.2 L313.9,302.9 L325.0,336.6 L336.1,340.7 L347.2,298.6 L358.4,338.1 L369.5,340.7 L380.6,381.3 L391.7,352.5 L402.8,319.9 L413.9,321.8 L425.0,344.0 L436.2,333.3 L447.3,318.8 L458.4,328.2 L469.5,297.5 L480.6,331.0 L491.7,291.4 L502.9,296.5 L514.0,278.9 L525.1,309.0 L536.2,246.8 L547.3,244.9 L558.4,285.7 L569.5,306.7 L580.7,275.8 L591.8,295.7 L602.9,293.4 L614.0,318.6 L625.1,360.4 L636.2,382.4 L647.4,375.2 L658.5,365.9 L669.6,344.2 L680.7,341.7 L691.8,310.2 L702.9,293.5 L714.0,313.8 L725.2,276.6 L736.3,295.8 L747.4,342.5" stroke="#00b800"/></g>
<g fill="none" stroke-linejoin="round" stroke-linecap="round">
<path d="M91.6,249.0 L102.7,258.0 L113.8,274.5 L124.9,280.2 L136.1,281.0 L147.2,281.7 L158.3,282.2 L169.4,277.7 L180.5,262.8 L191.6,247.2 L202.8,237.0 L213.9,223.0 L225.0,216.5 L236.1,209.5 L247.2,201.0 L258.3,192.0 L269.4,182.3 L280.6,182.0 L291.7,194.0 L302.8,212.0 L313.9,232.0 L325.0,251.0 L336.1,261.6 L347.2,257.5 L358.4,255.5 L369.5,258.5 L380.6,265.5 L391.7,270.2 L402.8,273.7 L413.9,278.4 L425.0,278.4 L436.2,272.6 L447.3,270.0 L458.4,272.6 L469.5,273.7 L480.6,275.6 L491.7,271.9 L502.9,274.2 L514.0,279.6 L525.1,282.0 L536.2,280.8 L547.3,283.1 L558.4,285.5 L569.5,285.5 L580.7,287.8 L591.8,290.1 L602.9,291.3 L614.0,294.4 L625.1,291.3 L636.2,295.5 L647.4,295.5 L658.5,293.2 L669.6,294.4 L680.7,294.4 L691.8,301.4 L702.9,300.7 L714.0,301.9 L725.2,305.4 L736.3,303.5 L747.4,305.4" stroke="#ffffff" stroke-width="4"/>
<path d="M91.6,248.9 L102.7,261.0 L113.8,277.3 L124.9,282.2 L136.1,284.4 L147.2,286.4 L158.3,287.2 L169.4,286.3 L180.5,264.4 L191.6,244.0 L202.8,225.3 L213.9,206.6 L225.0,193.3 L236.1,187.0 L247.2,180.0 L258.3,172.8 L269.4,170.0 L280.6,174.0 L291.7,176.0 L302.8,183.5 L313.9,209.0 L325.0,246.0 L336.1,283.0 L347.2,280.0 L358.4,255.0 L369.5,246.8 L380.6,246.8 L391.7,249.0 L402.8,252.6 L413.9,267.9 L425.0,286.6 L436.2,301.9 L447.3,308.5 L458.4,300.7 L469.5,257.3 L480.6,222.2 L491.7,256.2 L502.9,231.6 L514.0,239.8 L525.1,232.7 L536.2,228.0 L547.3,214.0 L558.4,207.7 L569.5,208.1 L580.7,210.5 L591.8,217.5 L602.9,221.7 L614.0,223.4 L625.1,222.9 L636.2,223.4 L647.4,223.4 L658.5,219.8 L669.6,214.7 L680.7,214.0 L691.8,214.7 L702.9,214.0 L714.0,216.3 L725.2,220.3 L736.3,230.4 L747.4,240.9" stroke="#00e000" stroke-width="4.5"/>
<path d="M91.6,325.9 L102.7,330.0 L113.8,334.7 L124.9,333.4 L136.1,334.4 L147.2,335.9 L158.3,336.9 L169.4,336.3 L180.5,328.8 L191.6,328.8 L202.8,322.2 L213.9,317.2 L225.0,326.6 L236.1,330.0 L247.2,341.6 L258.3,343.8 L269.4,344.7 L280.6,346.9 L291.7,341.6 L302.8,335.3 L313.9,331.6 L325.0,329.5 L336.1,323.4 L347.2,326.5 L358.4,330.0 L369.5,334.7 L380.6,337.5 L391.7,339.4 L402.8,341.7 L413.9,344.5 L425.0,343.6 L436.2,341.7 L447.3,341.5 L458.4,340.5 L469.5,341.2 L480.6,341.7 L491.7,340.0 L502.9,342.9 L514.0,345.2 L525.1,349.9 L536.2,348.3 L547.3,352.3 L558.4,354.6 L569.5,353.0 L580.7,347.6 L591.8,344.0 L602.9,342.9 L614.0,340.5 L625.1,343.6 L636.2,341.7 L647.4,341.7 L658.5,340.5 L669.6,339.4 L680.7,341.7 L691.8,342.2 L702.9,343.3 L714.0,344.0 L725.2,346.9 L736.3,354.6 L747.4,356.2" stroke="#fc4242" stroke-width="4.6"/>
</g>
<rect x="86" y="77" width="669" height="457" fill="none" stroke="#d8d8d8" stroke-width="2"/>
<g stroke="#c4d0ee" stroke-width="1.2"><line x1="145.5" x2="145.5" y1="535" y2="547"/><line x1="235.0" x2="235.0" y1="535" y2="547"/><line x1="323.0" x2="323.0" y1="535" y2="547"/><line x1="412.7" x2="412.7" y1="535" y2="547"/><line x1="501.1" x2="501.1" y1="535" y2="547"/><line x1="590.8" x2="590.8" y1="535" y2="547"/><line x1="678.9" x2="678.9" y1="535" y2="547"/></g>
<g><line x1="72.0" x2="92.0" y1="618.2" y2="618.2" stroke="#0a28b4" stroke-width="1.6"/><line x1="153.2" x2="173.2" y1="618.2" y2="618.2" stroke="#0a4aa8" stroke-width="1.6"/><line x1="234.5" x2="254.5" y1="618.2" y2="618.2" stroke="#0a70b0" stroke-width="1.6"/><line x1="315.8" x2="335.8" y1="618.2" y2="618.2" stroke="#0a88a8" stroke-width="1.6"/><line x1="397.0" x2="417.0" y1="618.2" y2="618.2" stroke="#0a9a9a" stroke-width="1.6"/><line x1="478.2" x2="498.2" y1="618.2" y2="618.2" stroke="#0a9a70" stroke-width="1.6"/><line x1="559.5" x2="579.5" y1="618.2" y2="618.2" stroke="#0a9a50" stroke-width="1.6"/><line x1="640.8" x2="660.8" y1="618.2" y2="618.2" stroke="#0a9a3a" stroke-width="1.6"/><line x1="72.0" x2="92.0" y1="637.3" y2="637.3" stroke="#0aa01e" stroke-width="1.6"/><line x1="153.2" x2="173.2" y1="637.3" y2="637.3" stroke="#00a000" stroke-width="1.6"/><line x1="234.5" x2="254.5" y1="637.3" y2="637.3" stroke="#b4b400" stroke-width="1.6"/><line x1="315.8" x2="335.8" y1="637.3" y2="637.3" stroke="#b4a000" stroke-width="1.6"/><line x1="397.0" x2="417.0" y1="637.3" y2="637.3" stroke="#b49600" stroke-width="1.6"/><line x1="478.2" x2="498.2" y1="637.3" y2="637.3" stroke="#b48200" stroke-width="1.6"/><line x1="559.5" x2="579.5" y1="637.3" y2="637.3" stroke="#b47000" stroke-width="1.6"/><line x1="640.8" x2="660.8" y1="637.3" y2="637.3" stroke="#b06400" stroke-width="1.6"/><line x1="72.0" x2="92.0" y1="656.4" y2="656.4" stroke="#b05000" stroke-width="1.6"/><line x1="153.2" x2="173.2" y1="656.4" y2="656.4" stroke="#a83c14" stroke-width="1.6"/><line x1="234.5" x2="254.5" y1="656.4" y2="656.4" stroke="#982818" stroke-width="1.6"/><line x1="315.8" x2="335.8" y1="656.4" y2="656.4" stroke="#901c1c" stroke-width="1.6"/><line x1="397.0" x2="417.0" y1="656.4" y2="656.4" stroke="#0a28b4" stroke-width="1.6"/><line x1="478.2" x2="498.2" y1="656.4" y2="656.4" stroke="#0a4aa8" stroke-width="1.6"/><line x1="559.5" x2="579.5" y1="656.4" y2="656.4" stroke="#0a70b0" stroke-width="1.6"/><line x1="640.8" x2="660.8" y1="656.4" y2="656.4" stroke="#0a88a8" stroke-width="1.6"/><line x1="72.0" x2="92.0" y1="675.6" y2="675.6" stroke="#0a9a9a" stroke-width="1.6"/><line x1="153.2" x2="173.2" y1="675.6" y2="675.6" stroke="#0a9a70" stroke-width="1.6"/><line x1="234.5" x2="254.5" y1="675.6" y2="675.6" stroke="#0a9a50" stroke-width="1.6"/><line x1="315.8" x2="335.8" y1="675.6" y2="675.6" stroke="#0a9a3a" stroke-width="1.6"/><line x1="397.0" x2="417.0" y1="675.6" y2="675.6" stroke="#0aa01e" stroke-width="1.6"/><line x1="478.2" x2="498.2" y1="675.6" y2="675.6" stroke="#00a000" stroke-width="1.6"/><line x1="559.5" x2="579.5" y1="675.6" y2="675.6" stroke="#b4b400" stroke-width="1.6"/><line x1="640.8" x2="660.8" y1="675.6" y2="675.6" stroke="#b4a000" stroke-width="1.6"/><line x1="72.0" x2="92.0" y1="694.7" y2="694.7" stroke="#b49600" stroke-width="1.6"/><line x1="153.2" x2="173.2" y1="694.7" y2="694.7" stroke="#b48200" stroke-width="1.6"/><line x1="234.5" x2="254.5" y1="694.7" y2="694.7" stroke="#b47000" stroke-width="1.6"/><line x1="315.8" x2="335.8" y1="694.7" y2="694.7" stroke="#b06400" stroke-width="1.6"/><line x1="397.0" x2="417.0" y1="694.7" y2="694.7" stroke="#b05000" stroke-width="1.6"/><line x1="478.2" x2="498.2" y1="694.7" y2="694.7" stroke="#a83c14" stroke-width="1.6"/><line x1="559.5" x2="579.5" y1="694.7" y2="694.7" stroke="#982818" stroke-width="1.6"/><line x1="640.8" x2="660.8" y1="694.7" y2="694.7" stroke="#901c1c" stroke-width="1.6"/><line x1="72.0" x2="92.0" y1="713.8" y2="713.8" stroke="#0a28b4" stroke-width="1.6"/><line x1="153.2" x2="173.2" y1="713.8" y2="713.8" stroke="#0a4aa8" stroke-width="1.6"/><line x1="234.5" x2="254.5" y1="713.8" y2="713.8" stroke="#0a70b0" stroke-width="1.6"/><line x1="315.8" x2="335.8" y1="713.8" y2="713.8" stroke="#0a88a8" stroke-width="1.6"/><line x1="397.0" x2="417.0" y1="713.8" y2="713.8" stroke="#0a9a9a" stroke-width="1.6"/><line x1="478.2" x2="498.2" y1="713.8" y2="713.8" stroke="#0a9a70" stroke-width="1.6"/><line x1="559.5" x2="579.5" y1="713.8" y2="713.8" stroke="#0a9a50" stroke-width="1.6"/><line x1="640.8" x2="660.8" y1="713.8" y2="713.8" stroke="#0a9a3a" stroke-width="1.6"/><line x1="72.0" x2="92.0" y1="732.9" y2="732.9" stroke="#0aa01e" stroke-width="1.6"/><line x1="153.2" x2="173.2" y1="732.9" y2="732.9" stroke="#00a000" stroke-width="1.6"/><line x1="234.2" x2="254.2" y1="733.4" y2="733.4" stroke="#ffffff" stroke-width="3.2" stroke-linecap="round"/><line x1="319.3" x2="339.2" y1="733.4" y2="733.4" stroke="#00dd00" stroke-width="3.2" stroke-linecap="round"/><line x1="414.6" x2="434.5" y1="733.4" y2="733.4" stroke="#fc4242" stroke-width="3.2" stroke-linecap="round"/></g>
<g font-family="Liberation Sans, sans-serif"><text x="214.3" y="25.5" font-size="23.50" text-anchor="start" font-weight="normal" fill="#ffffff" textLength="339.0" lengthAdjust="spacingAndGlyphs">AIFS Miskolc (HU) 48N, 20.75E</text><text x="289.6" y="63.8" font-size="15.00" text-anchor="start" font-weight="normal" fill="#ffffff" textLength="187.8" lengthAdjust="spacingAndGlyphs">Init: Sat, 6 Dec 2025, 12Z</text><text x="50.4" y="83.4" font-size="14.30" text-anchor="start" font-weight="normal" fill="#ffffff" textLength="15.0" lengthAdjust="spacingAndGlyphs">15</text><text x="50.1" y="159.3" font-size="14.30" text-anchor="start" font-weight="normal" fill="#ffffff" textLength="15.9" lengthAdjust="spacingAndGlyphs">10</text><text x="58.8" y="236.1" font-size="14.30" text-anchor="start" font-weight="normal" fill="#ffffff" textLength="6.5" lengthAdjust="spacingAndGlyphs">5</text><text x="57.9" y="311.4" font-size="14.30" text-anchor="start" font-weight="normal" fill="#ffffff" textLength="8.1" lengthAdjust="spacingAndGlyphs">0</text><text x="50.1" y="388.0" font-size="14.30" text-anchor="start" font-weight="normal" fill="#ffffff" textLength="14.8" lengthAdjust="spacingAndGlyphs">−5</text><text x="41.5" y="463.5" font-size="14.30" text-anchor="start" font-weight="normal" fill="#ffffff" textLength="24.2" lengthAdjust="spacingAndGlyphs">−10</text><text x="41.8" y="540.1" font-size="14.30" text-anchor="start" font-weight="normal" fill="#ffffff" textLength="23.4" lengthAdjust="spacingAndGlyphs">−15</text><text x="125.3" y="557.9" font-size="14.30" text-anchor="start" font-weight="normal" fill="#ffffff" textLength="42.2" lengthAdjust="spacingAndGlyphs">8. Dec</text><text x="210.7" y="557.9" font-size="14.30" text-anchor="start" font-weight="normal" fill="#ffffff" textLength="50.5" lengthAdjust="spacingAndGlyphs">10. Dec</text><text x="298.6" y="557.9" font-size="14.30" text-anchor="start" font-weight="normal" fill="#ffffff" textLength="50.5" lengthAdjust="spacingAndGlyphs">12. Dec</text><text x="388.3" y="557.9" font-size="14.30" text-anchor="start" font-weight="normal" fill="#ffffff" textLength="50.5" lengthAdjust="spacingAndGlyphs">14. Dec</text><text x="476.8" y="557.9" font-size="14.30" text-anchor="start" font-weight="normal" fill="#ffffff" textLength="50.5" lengthAdjust="spacingAndGlyphs">16. Dec</text><text x="566.4" y="557.9" font-size="14.30" text-anchor="start" font-weight="normal" fill="#ffffff" textLength="50.5" lengthAdjust="spacingAndGlyphs">18. Dec</text><text x="654.5" y="557.9" font-size="14.30" text-anchor="start" font-weight="normal" fill="#ffffff" textLength="50.5" lengthAdjust="spacingAndGlyphs">20. Dec</text><text x="349.4" y="581.9" font-size="14.30" text-anchor="start" font-weight="normal" fill="#ffffff" textLength="142.3" lengthAdjust="spacingAndGlyphs">Local time (UTC+1)</text><text x="0" y="0" font-size="14.3" fill="#ffffff" textLength="143.8" lengthAdjust="spacingAndGlyphs" transform="translate(30.6,376) rotate(-90)">850 hPa Temp. (°C)</text><text x="99.4" y="623.2" font-size="15.00" text-anchor="start" font-weight="bold" fill="#ffffff" textLength="28.8" lengthAdjust="spacingAndGlyphs">P01</text><text x="180.7" y="623.2" font-size="15.00" text-anchor="start" font-weight="bold" fill="#ffffff" textLength="28.8" lengthAdjust="spacingAndGlyphs">P02</text><text x="261.9" y="623.2" font-size="15.00" text-anchor="start" font-weight="bold" fill="#ffffff" textLength="28.8" lengthAdjust="spacingAndGlyphs">P03</text><text x="343.1" y="623.2" font-size="15.00" text-anchor="start" font-weight="bold" fill="#ffffff" textLength="28.8" lengthAdjust="spacingAndGlyphs">P04</text><text x="424.4" y="623.2" font-size="15.00" text-anchor="start" font-weight="bold" fill="#ffffff" textLength="28.8" lengthAdjust="spacingAndGlyphs">P05</text><text x="505.6" y="623.2" font-size="15.00" text-anchor="start" font-weight="bold" fill="#ffffff" textLength="28.8" lengthAdjust="spacingAndGlyphs">P06</text><text x="586.9" y="623.2" font-size="15.00" text-anchor="start" font-weight="bold" fill="#ffffff" textLength="28.8" lengthAdjust="spacingAndGlyphs">P07</text><text x="668.1" y="623.2" font-size="15.00" text-anchor="start" font-weight="bold" fill="#ffffff" textLength="28.8" lengthAdjust="spacingAndGlyphs">P08</text><text x="99.4" y="642.3" font-size="15.00" text-anchor="start" font-weight="bold" fill="#ffffff" textLength="28.8" lengthAdjust="spacingAndGlyphs">P09</text><text x="180.7" y="642.3" font-size="15.00" text-anchor="start" font-weight="bold" fill="#ffffff" textLength="28.8" lengthAdjust="spacingAndGlyphs">P10</text><text x="261.9" y="642.3" font-size="15.00" text-anchor="start" font-weight="bold" fill="#ffffff" textLength="28.8" lengthAdjust="spacingAndGlyphs">P11</text><text x="343.1" y="642.3" font-size="15.00" text-anchor="start" font-weight="bold" fill="#ffffff" textLength="28.8" lengthAdjust="spacingAndGlyphs">P12</text><text x="424.4" y="642.3" font-size="15.00" text-anchor="start" font-weight="bold" fill="#ffffff" textLength="28.8" lengthAdjust="spacingAndGlyphs">P13</text><text x="505.6" y="642.3" font-size="15.00" text-anchor="start" font-weight="bold" fill="#ffffff" textLength="28.8" lengthAdjust="spacingAndGlyphs">P14</text><text x="586.9" y="642.3" font-size="15.00" text-anchor="start" font-weight="bold" fill="#ffffff" textLength="28.8" lengthAdjust="spacingAndGlyphs">P15</text><text x="668.1" y="642.3" font-size="15.00" text-anchor="start" font-weight="bold" fill="#ffffff" textLength="28.8" lengthAdjust="spacingAndGlyphs">P16</text><text x="99.4" y="661.4" font-size="15.00" text-anchor="start" font-weight="bold" fill="#ffffff" textLength="28.8" lengthAdjust="spacingAndGlyphs">P17</text><text x="180.7" y="661.4" font-size="15.00" text-anchor="start" font-weight="bold" fill="#ffffff" textLength="28.8" lengthAdjust="spacingAndGlyphs">P18</text><text x="261.9" y="661.4" font-size="15.00" text-anchor="start" font-weight="bold" fill="#ffffff" textLength="28.8" lengthAdjust="spacingAndGlyphs">P19</text><text x="343.1" y="661.4" font-size="15.00" text-anchor="start" font-weight="bold" fill="#ffffff" textLength="28.8" lengthAdjust="spacingAndGlyphs">P20</text><text x="424.4" y="661.4" font-size="15.00" text-anchor="start" font-weight="bold" fill="#ffffff" textLength="28.8" lengthAdjust="spacingAndGlyphs">P21</text><text x="505.6" y="661.4" font-size="15.00" text-anchor="start" font-weight="bold" fill="#ffffff" textLength="28.8" lengthAdjust="spacingAndGlyphs">P22</text><text x="586.9" y="661.4" font-size="15.00" text-anchor="start" font-weight="bold" fill="#ffffff" textLength="28.8" lengthAdjust="spacingAndGlyphs">P23</text><text x="668.1" y="661.4" font-size="15.00" text-anchor="start" font-weight="bold" fill="#ffffff" textLength="28.8" lengthAdjust="spacingAndGlyphs">P24</text><text x="99.4" y="680.6" font-size="15.00" text-anchor="start" font-weight="bold" fill="#ffffff" textLength="28.8" lengthAdjust="spacingAndGlyphs">P25</text><text x="180.7" y="680.6" font-size="15.00" text-anchor="start" font-weight="bold" fill="#ffffff" textLength="28.8" lengthAdjust="spacingAndGlyphs">P26</text><text x="261.9" y="680.6" font-size="15.00" text-anchor="start" font-weight="bold" fill="#ffffff" textLength="28.8" lengthAdjust="spacingAndGlyphs">P27</text><text x="343.1" y="680.6" font-size="15.00" text-anchor="start" font-weight="bold" fill="#ffffff" textLength="28.8" lengthAdjust="spacingAndGlyphs">P28</text><text x="424.4" y="680.6" font-size="15.00" text-anchor="start" font-weight="bold" fill="#ffffff" textLength="28.8" lengthAdjust="spacingAndGlyphs">P29</text><text x="505.6" y="680.6" font-size="15.00" text-anchor="start" font-weight="bold" fill="#ffffff" textLength="28.8" lengthAdjust="spacingAndGlyphs">P30</text><text x="586.9" y="680.6" font-size="15.00" text-anchor="start" font-weight="bold" fill="#ffffff" textLength="28.8" lengthAdjust="spacingAndGlyphs">P31</text><text x="668.1" y="680.6" font-size="15.00" text-anchor="start" font-weight="bold" fill="#ffffff" textLength="28.8" lengthAdjust="spacingAndGlyphs">P32</text><text x="99.4" y="699.7" font-size="15.00" text-anchor="start" font-weight="bold" fill="#ffffff" textLength="28.8" lengthAdjust="spacingAndGlyphs">P33</text><text x="180.7" y="699.7" font-size="15.00" text-anchor="start" font-weight="bold" fill="#ffffff" textLength="28.8" lengthAdjust="spacingAndGlyphs">P34</text><text x="261.9" y="699.7" font-size="15.00" text-anchor="start" font-weight="bold" fill="#ffffff" textLength="28.8" lengthAdjust="spacingAndGlyphs">P35</text><text x="343.1" y="699.7" font-size="15.00" text-anchor="start" font-weight="bold" fill="#ffffff" textLength="28.8" lengthAdjust="spacingAndGlyphs">P36</text><text x="424.4" y="699.7" font-size="15.00" text-anchor="start" font-weight="bold" fill="#ffffff" textLength="28.8" lengthAdjust="spacingAndGlyphs">P37</text><text x="505.6" y="699.7" font-size="15.00" text-anchor="start" font-weight="bold" fill="#ffffff" textLength="28.8" lengthAdjust="spacingAndGlyphs">P38</text><text x="586.9" y="699.7" font-size="15.00" text-anchor="start" font-weight="bold" fill="#ffffff" textLength="28.8" lengthAdjust="spacingAndGlyphs">P39</text><text x="668.1" y="699.7" font-size="15.00" text-anchor="start" font-weight="bold" fill="#ffffff" textLength="28.8" lengthAdjust="spacingAndGlyphs">P40</text><text x="99.4" y="718.8" font-size="15.00" text-anchor="start" font-weight="bold" fill="#ffffff" textLength="28.8" lengthAdjust="spacingAndGlyphs">P41</text><text x="180.7" y="718.8" font-size="15.00" text-anchor="start" font-weight="bold" fill="#ffffff" textLength="28.8" lengthAdjust="spacingAndGlyphs">P42</text><text x="261.9" y="718.8" font-size="15.00" text-anchor="start" font-weight="bold" fill="#ffffff" textLength="28.8" lengthAdjust="spacingAndGlyphs">P43</text><text x="343.1" y="718.8" font-size="15.00" text-anchor="start" font-weight="bold" fill="#ffffff" textLength="28.8" lengthAdjust="spacingAndGlyphs">P44</text><text x="424.4" y="718.8" font-size="15.00" text-anchor="start" font-weight="bold" fill="#ffffff" textLength="28.8" lengthAdjust="spacingAndGlyphs">P45</text><text x="505.6" y="718.8" font-size="15.00" text-anchor="start" font-weight="bold" fill="#ffffff" textLength="28.8" lengthAdjust="spacingAndGlyphs">P46</text><text x="586.9" y="718.8" font-size="15.00" text-anchor="start" font-weight="bold" fill="#ffffff" textLength="28.8" lengthAdjust="spacingAndGlyphs">P47</text><text x="668.1" y="718.8" font-size="15.00" text-anchor="start" font-weight="bold" fill="#ffffff" textLength="28.8" lengthAdjust="spacingAndGlyphs">P48</text><text x="99.4" y="737.9" font-size="15.00" text-anchor="start" font-weight="bold" fill="#ffffff" textLength="28.8" lengthAdjust="spacingAndGlyphs">P49</text><text x="180.7" y="737.9" font-size="15.00" text-anchor="start" font-weight="bold" fill="#ffffff" textLength="28.8" lengthAdjust="spacingAndGlyphs">P50</text><text x="261.3" y="737.9" font-size="15.00" text-anchor="start" font-weight="bold" fill="#ffffff" textLength="32.6" lengthAdjust="spacingAndGlyphs">AVG</text><text x="345.5" y="737.9" font-size="15.00" text-anchor="start" font-weight="bold" fill="#ffffff" textLength="41.5" lengthAdjust="spacingAndGlyphs">OPER</text><text x="442.3" y="737.9" font-size="15.00" text-anchor="start" font-weight="bold" fill="#ffffff" textLength="165.6" lengthAdjust="spacingAndGlyphs">LT MEAN 1991–2020</text><text x="571.2" y="760.7" font-size="20.50" text-anchor="start" font-weight="normal" fill="#f0f0f0" textLength="183.3" lengthAdjust="spacingAndGlyphs" stroke="#f0f0f0" stroke-width="0.25">wetterzentrale.de</text></g>
</svg>
</body></html>
